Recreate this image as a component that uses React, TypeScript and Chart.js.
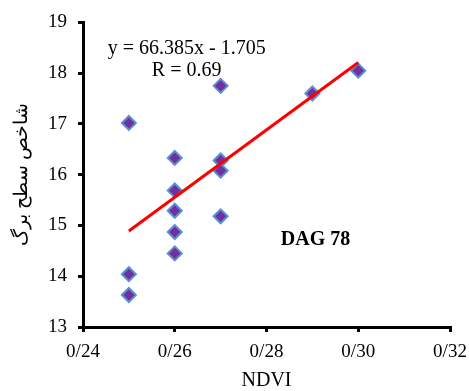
import React, { useEffect, useRef } from "react";
import { Chart, registerables } from "chart.js";

Chart.register(...registerables);

const ndvi = [0.25, 0.25, 0.25, 0.26, 0.26, 0.26, 0.26, 0.26, 0.27, 0.27, 0.27, 0.27, 0.29, 0.30];
const lai = [17.02, 14.04, 13.63, 16.33, 15.69, 15.29, 14.87, 14.45, 17.75, 16.28, 16.08, 15.18, 17.6, 18.05];
const trendX = [0.25, 0.30];
const slope = 66.385;
const intercept = -1.705;
const trendY = trendX.map((x) => slope * x + intercept);
const xTicks = [0.24, 0.26, 0.28, 0.3, 0.32];
const yTitle = "شاخص سطح برگ";
const xTitle = "NDVI";
const eqText = "y = 66.385x - 1.705";
const rText = "R = 0.69";
const labelText = "DAG 78";

const FONT = "'Liberation Serif', 'Times New Roman', serif";

const textPlugin = {
  id: "texts",
  afterDraw(chart: any) {
    const { ctx, scales } = chart;
    const xs = scales.x;
    const ys = scales.y;
    ctx.save();
    ctx.fillStyle = "#000";
    ctx.textAlign = "center";
    ctx.textBaseline = "middle";
    ctx.font = `20px ${FONT}`;
    ctx.fillText(eqText, xs.getPixelForValue(0.2626), ys.getPixelForValue(18.49));
    ctx.fillText(rText, xs.getPixelForValue(0.2626), ys.getPixelForValue(18.04));
    ctx.font = `bold 20px ${FONT}`;
    ctx.fillText(labelText, xs.getPixelForValue(0.2907), ys.getPixelForValue(14.71));
    ctx.restore();
  },
};

export default function App() {
  const ref = useRef<HTMLCanvasElement>(null);
  useEffect(() => {
    document.body.style.margin = "0";
    const chart = new Chart(ref.current!, {
      type: "scatter",
      data: {
        datasets: [
          {
            data: ndvi.map((x, i) => ({ x, y: lai[i] })),
            pointStyle: "rectRot",
            pointRadius: 7,
            pointBackgroundColor: "#7030A0",
            pointBorderColor: "#5B8FD0",
            pointBorderWidth: 2,
            order: 2,
          },
          {
            type: "line",
            data: trendX.map((x, i) => ({ x, y: trendY[i] })),
            borderColor: "#FF0000",
            borderWidth: 3,
            pointRadius: 0,
            showLine: true,
            order: 1,
          } as any,
        ],
      },
      options: {
        animation: false,
        responsive: false,
        layout: { padding: { top: 20, right: 0, left: 0, bottom: 0 } },
        plugins: { legend: { display: false }, tooltip: { enabled: false } },
        scales: {
          x: {
            type: "linear",
            min: 0.24,
            max: 0.32,
            afterBuildTicks: (s: any) => {
              s.ticks = xTicks.map((v) => ({ value: v }));
            },
            afterFit: (s: any) => {
              s.height = 64;
              s.paddingRight = 19;
            },
            ticks: {
              color: "#000",
              font: { family: FONT, size: 19 },
              padding: 9,
              callback: (v: any) => Number(v).toFixed(2).replace(".", "/"),
            },
            grid: { drawOnChartArea: false, drawTicks: true, tickLength: 5, color: "#000", lineWidth: 3 },
            border: { display: true, color: "#000", width: 3 },
            title: { display: true, text: xTitle, color: "#000", font: { family: FONT, size: 20, lineHeight: 1 }, padding: { top: 0, bottom: 0 } },
          },
          y: {
            min: 13,
            max: 19,
            afterFit: (s: any) => {
              s.width = 83;
            },
            ticks: { stepSize: 1, color: "#000", font: { family: FONT, size: 19 }, padding: 11 },
            grid: { drawOnChartArea: false, drawTicks: true, tickLength: 5, color: "#000", lineWidth: 3 },
            border: { display: true, color: "#000", width: 3 },
            title: { display: true, text: yTitle, color: "#000", font: { family: FONT, size: 19 }, padding: { top: 11, bottom: 0 } },
          },
        },
      },
      plugins: [textPlugin],
    });
    return () => chart.destroy();
  }, []);
  return (
    <div style={{ width: 469, height: 391, background: "#fff" }}>
      <canvas ref={ref} width={469} height={391} />
    </div>
  );
}
